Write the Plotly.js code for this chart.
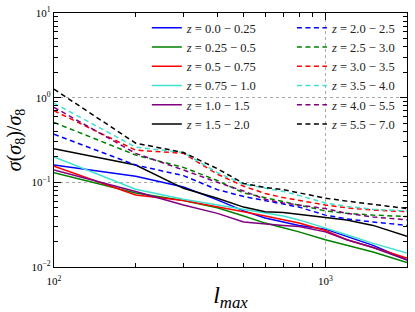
<!DOCTYPE html>
<html>
<head>
<meta charset="utf-8">
<script src="https://cdn.plot.ly/plotly-3.0.1.min.js"></script>
<style>html,body{margin:0;padding:0;background:#fff;}#chart{width:415px;height:312px;}</style>
</head>
<body>
<div id="chart"></div>
<script>
// multipole cut-off l_max
const lmax = [100, 200, 300, 400, 500, 600, 700, 800, 1000, 1200, 1500, 2000];

// sigma(sigma8)/sigma8 per redshift bin
const z0_025   = [0.16, 0.118, 0.088, 0.062, 0.046, 0.038, 0.034, 0.031, 0.028, 0.023, 0.018, 0.0122];
const z025_05  = [0.13, 0.075, 0.061, 0.050, 0.040, 0.033, 0.029, 0.026, 0.021, 0.018, 0.015, 0.0113];
const z05_075  = [0.155, 0.071, 0.061, 0.052, 0.045, 0.040, 0.036, 0.033, 0.027, 0.021, 0.017, 0.0128];
const z075_10  = [0.20, 0.083, 0.063, 0.054, 0.047, 0.043, 0.040, 0.036, 0.029, 0.024, 0.019, 0.0146];
const z10_15   = [0.14, 0.078, 0.054, 0.043, 0.034, 0.032, 0.031, 0.030, 0.026, 0.021, 0.017, 0.0121];
const z15_20   = [0.25, 0.16, 0.085, 0.065, 0.051, 0.045, 0.044, 0.042, 0.039, 0.036, 0.031, 0.023];
const z20_25   = [0.37, 0.16, 0.12, 0.082, 0.068, 0.061, 0.056, 0.051, 0.041, 0.037, 0.034, 0.031];
const z25_30   = [0.51, 0.21, 0.15, 0.105, 0.075, 0.066, 0.060, 0.054, 0.046, 0.043, 0.041, 0.0395];
const z30_35   = [0.70, 0.24, 0.22, 0.125, 0.090, 0.074, 0.066, 0.061, 0.054, 0.050, 0.047, 0.045];
const z35_40   = [0.86, 0.26, 0.225, 0.13, 0.095, 0.085, 0.078, 0.070, 0.057, 0.052, 0.048, 0.046];
const z40_55   = [0.77, 0.22, 0.14, 0.10, 0.079, 0.063, 0.057, 0.054, 0.049, 0.043, 0.039, 0.036];
const z55_70   = [1.26, 0.29, 0.225, 0.145, 0.097, 0.087, 0.082, 0.075, 0.065, 0.060, 0.055, 0.049];

const labels = ["0.0 \u2212 0.25", "0.25 \u2212 0.5", "0.5 \u2212 0.75", "0.75 \u2212 1.0", "1.0 \u2212 1.5", "1.5 \u2212 2.0",
                "2.0 \u2212 2.5", "2.5 \u2212 3.0", "3.0 \u2212 3.5", "3.5 \u2212 4.0", "4.0 \u2212 5.5", "5.5 \u2212 7.0"];
const series = [z0_025, z025_05, z05_075, z075_10, z10_15, z15_20, z20_25, z25_30, z30_35, z35_40, z40_55, z55_70];
const colors = ["#0000ff", "#008000", "#ff0000", "#40e0d0", "#800080", "#000000"];

const xTickVals = [100, 1000];
const xTickText = ["10<sup>2</sup>", "10<sup>3</sup>"];
const yTickVals = [0.01, 0.1, 1, 10];
const yTickText = ["10<sup>\u22122</sup>", "10<sup>\u22121</sup>", "10<sup>0</sup>", "10<sup>1</sup>"];
const xMinor = [200, 300, 400, 500, 600, 700, 800, 900, 2000];
const yMinor = [0.02,0.03,0.04,0.05,0.06,0.07,0.08,0.09,0.2,0.3,0.4,0.5,0.6,0.7,0.8,0.9,2,3,4,5,6,7,8,9];

const traces = series.map((vals, i) => ({
  x: lmax, y: vals, type: 'scatter', mode: 'lines',
  name: '<i>z</i> = ' + labels[i],
  line: {color: colors[i % 6], width: 1.5, dash: i < 6 ? 'solid' : '5px,3.5px'},
  legend: i < 6 ? 'legend' : 'legend2',
  legendgroup: 'g' + i
}));

const serif = "'Liberation Serif', 'DejaVu Serif', serif";
const legendCommon = {
  bgcolor: 'rgba(0,0,0,0)', borderwidth: 0, yanchor: 'top', xanchor: 'left',
  font: {family: serif, size: 12.5, color: '#222'}, tracegroupgap: 0, traceorder: 'normal'
};

const layout = {
  width: 415, height: 312,
  margin: {l: 54, r: 8, t: 13, b: 45},
  paper_bgcolor: '#fff', plot_bgcolor: '#fff',
  font: {family: serif, size: 11, color: '#000'},
  showlegend: true,
  legend: Object.assign({x: 0.263, y: 1.0}, legendCommon),
  legend2: Object.assign({x: 0.674, y: 1.0}, legendCommon),
  xaxis: {
    type: 'log', range: [2, Math.log10(2000)], tickvals: xTickVals, ticktext: xTickText,
    ticks: 'inside', ticklen: 7, tickwidth: 1, tickcolor: '#000',
    showline: true, linecolor: '#000', linewidth: 1.2, mirror: 'allticks',
    showgrid: true, gridcolor: '#aaa', griddash: 'dot', gridwidth: 1,
    zeroline: false, tickfont: {family: serif, size: 11}, ticklabelstandoff: 4,
    minor: {tickvals: xMinor, ticks: 'inside', ticklen: 4, tickcolor: '#000', showgrid: false},
    title: {text: '<i>l</i><sub><i>max</i></sub>', font: {family: serif, size: 24}, standoff: 8}
  },
  yaxis: {
    type: 'log', range: [-2, 1], tickvals: yTickVals, ticktext: yTickText,
    ticks: 'inside', ticklen: 7, tickwidth: 1, tickcolor: '#000',
    showline: true, linecolor: '#000', linewidth: 1.2, mirror: 'allticks',
    showgrid: true, gridcolor: '#aaa', griddash: 'dot', gridwidth: 1,
    zeroline: false, tickfont: {family: serif, size: 11},
    minor: {tickvals: yMinor, ticks: 'inside', ticklen: 4, tickcolor: '#000', showgrid: false},
    title: {text: '<i>\u03c3</i>(<i>\u03c3</i><sub>8</sub>)/<i>\u03c3</i><sub>8</sub>', font: {family: serif, size: 20}, standoff: 4}
  }
};

Plotly.newPlot('chart', traces, layout, {staticPlot: true, displayModeBar: false});
</script>
</body>
</html>
